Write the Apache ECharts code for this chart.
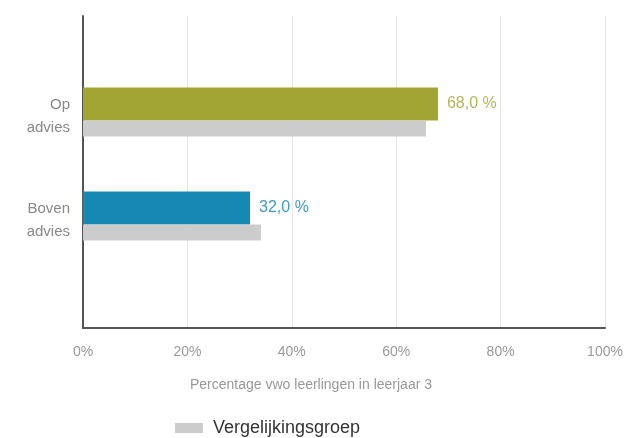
<!DOCTYPE html>
<html>
<head>
<meta charset="utf-8">
<script src="https://cdn.jsdelivr.net/npm/echarts@6/dist/echarts.min.js"></script>
<style>
  html, body { margin: 0; padding: 0; background: #fff; }
  #main { width: 633px; height: 438px; }
</style>
</head>
<body>
<div id="main"></div>
<script>
// gegevens
const categories = ['Op advies', 'Boven advies'];
const schoolValues = [68.0, 32.0];
const vergelijkingValues = [65.7, 34.1];
const xTicks = [0, 20, 40, 60, 80, 100];

const barColors = ['#a3a532', '#1589b3'];
const labelColors = ['#b3b55a', '#3f9cc0'];

const chart = echarts.init(document.getElementById('main'));

chart.setOption({
  animation: false,
  textStyle: { fontFamily: 'Liberation Sans, Arial, sans-serif' },
  grid: [
    // frame met assen en rasterlijnen
    { left: 83, right: 28, top: 16, bottom: 110 },
    // balken
    { left: 83, right: 28, top: 60, height: 208 }
  ],
  legend: {
    data: ['Vergelijkingsgroep'],
    left: 170,
    top: 414,
    padding: 5,
    itemWidth: 28,
    itemHeight: 10,
    icon: 'rect',
    textStyle: { color: '#333', fontSize: 18, padding: [0, 0, 0, 5] }
  },
  xAxis: [
    {
      gridIndex: 0,
      type: 'value',
      min: xTicks[0],
      max: xTicks[xTicks.length - 1],
      interval: 20,
      axisLine: { show: true, lineStyle: { color: '#555', width: 2 } },
      axisTick: { show: false },
      axisLabel: { formatter: '{value}%', color: '#999', fontSize: 14, margin: 17 },
      splitLine: { show: true, lineStyle: { color: '#e6e6e6' } },
      name: 'Percentage vwo leerlingen in leerjaar 3',
      nameLocation: 'middle',
      nameGap: 50,
      nameTextStyle: { color: '#999', fontSize: 14, padding: [0, 66, 0, 0] }
    },
    {
      gridIndex: 1,
      type: 'value',
      min: 0,
      max: 100,
      show: false
    }
  ],
  yAxis: [
    {
      gridIndex: 0,
      type: 'value',
      axisLine: { show: true, lineStyle: { color: '#555', width: 2 } },
      axisTick: { show: false },
      axisLabel: { show: false },
      splitLine: { show: false }
    },
    {
      gridIndex: 1,
      type: 'category',
      inverse: true,
      data: categories,
      axisLine: { show: false },
      axisTick: { show: false },
      axisLabel: {
        color: '#888',
        fontSize: 15,
        lineHeight: 23,
        margin: 13,
        // kleine lege regel bovenaan schuift het label iets omlaag
        formatter: v => '{s|}\n' + v.split(' ').map(w => '{t|' + w + '}').join('\n'),
        rich: {
          s: { height: 8, lineHeight: 8 },
          t: { color: '#888', fontSize: 15, lineHeight: 23 }
        }
      }
    }
  ],
  series: [
    {
      name: 'School',
      type: 'bar',
      xAxisIndex: 1,
      yAxisIndex: 1,
      barWidth: 33,
      barGap: '0%',
      data: schoolValues.map((v, i) => ({
        value: v,
        itemStyle: { color: barColors[i] },
        label: { color: labelColors[i] }
      })),
      label: {
        show: true,
        position: 'right',
        distance: 9,
        fontSize: 16,
        formatter: p => p.value.toFixed(1).replace('.', ',') + ' %'
      }
    },
    {
      name: 'Vergelijkingsgroep',
      type: 'bar',
      xAxisIndex: 1,
      yAxisIndex: 1,
      barWidth: 16,
      barGap: '0%',
      itemStyle: { color: '#cccccc' },
      data: vergelijkingValues
    }
  ]
});
</script>
</body>
</html>
